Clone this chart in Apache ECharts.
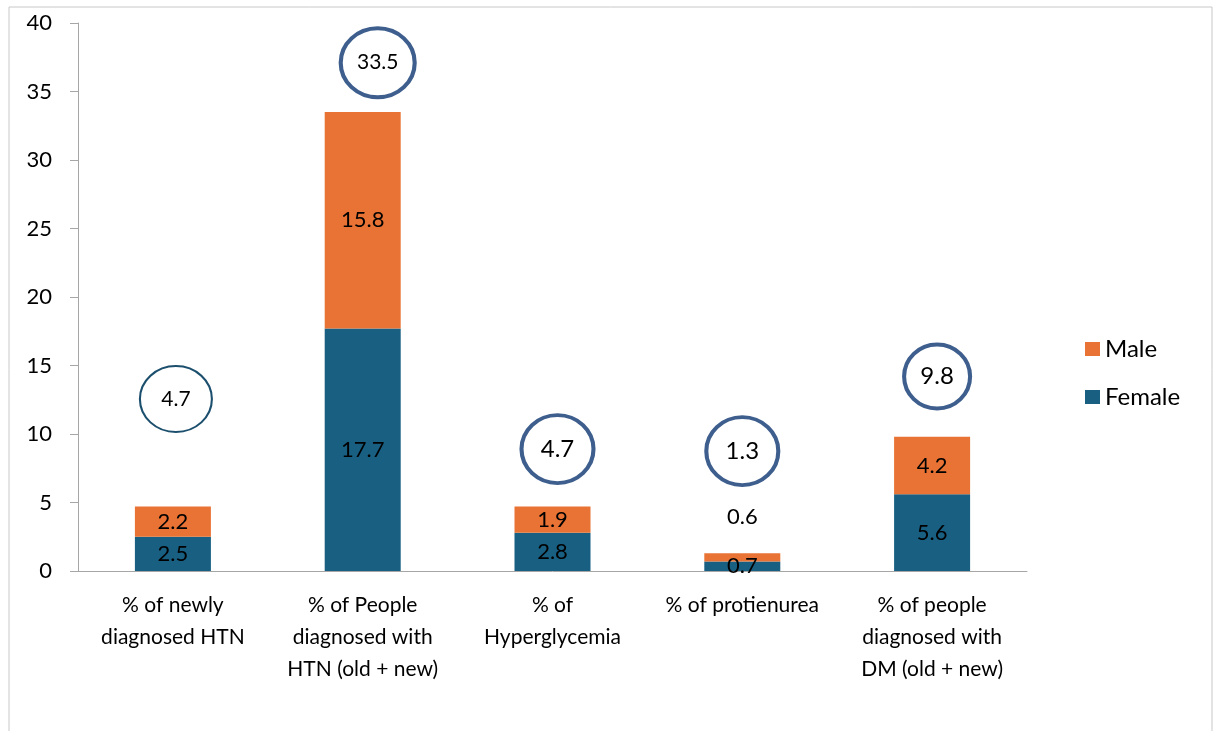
<!DOCTYPE html>
<html>
<head>
<meta charset="utf-8">
<script src="https://cdn.jsdelivr.net/npm/echarts@6/dist/echarts.min.js"></script>
<style>
  html, body { margin: 0; padding: 0; background: #fff; }
  #box { width: 1218px; height: 731px; }
</style>
</head>
<body>
<div id="box"></div>
<script>
// categories and values
var categories = [
  '% of newly\ndiagnosed HTN',
  '% of People\ndiagnosed with\nHTN (old + new)',
  '% of\nHyperglycemia',
  '% of protienurea',
  '% of people\ndiagnosed with\nDM (old + new)'
];
var female = [2.5, 17.7, 2.8, 0.7, 5.6];
var male = [2.2, 15.8, 1.9, 0.6, 4.2];
var totals = [4.7, 33.5, 4.7, 1.3, 9.8];
// height (in axis units) where each circled total sits
var circleLevel = [12.55, 37.1, 8.9, 8.75, 14.2];
var yTicks = { min: 0, max: 40, step: 5 };

var FONT = 'Lato, "Open Sans", sans-serif';
var chart = echarts.init(document.getElementById('box'));

var ellipse = 'path://M0,50 A50,50 0 1,1 100,50 A50,50 0 1,1 0,50 Z';

var option = {
  animation: false,
  textStyle: { fontFamily: FONT },
  graphic: [{
    type: 'rect',
    shape: { x: 9, y: 7, width: 1203, height: 760 },
    style: { fill: 'none', stroke: '#c8c8c8', lineWidth: 1 },
    silent: true
  }],
  grid: { left: 78, top: 23, right: 191, bottom: 160 },
  legend: {
    data: ['Male', 'Female'],
    orient: 'vertical',
    left: 1080,
    top: 332,
    itemWidth: 15,
    itemHeight: 14,
    itemGap: 24,
    icon: 'rect',
    textStyle: { fontSize: 24, color: '#000', fontFamily: FONT }
  },
  xAxis: {
    type: 'category',
    data: categories,
    axisLine: { lineStyle: { color: '#a6a6a6' } },
    axisTick: { length: 8, lineStyle: { color: '#a6a6a6' } },
    axisLabel: {
      interval: 0,
      fontSize: 21,
      lineHeight: 32,
      margin: 18,
      color: '#000',
      fontFamily: FONT
    }
  },
  yAxis: {
    type: 'value',
    min: yTicks.min,
    max: yTicks.max,
    interval: yTicks.step,
    axisLine: { show: true, lineStyle: { color: '#a6a6a6' } },
    axisTick: { show: true, length: 8, lineStyle: { color: '#a6a6a6' } },
    splitLine: { show: false },
    axisLabel: { fontSize: 22, color: '#000', margin: 26, fontFamily: FONT }
  },
  series: [
    {
      name: 'Female',
      type: 'bar',
      stack: 'total',
      barWidth: 76,
      itemStyle: { color: '#185f82' },
      label: { show: true, position: 'inside', color: '#000', fontSize: 22, fontFamily: FONT },
      data: female
    },
    {
      name: 'Male',
      type: 'bar',
      stack: 'total',
      barWidth: 76,
      itemStyle: { color: '#e97334' },
      label: { show: true, position: 'inside', color: '#000', fontSize: 22, fontFamily: FONT },
      data: male.map(function (v, i) {
        // the tiny protienurea slice has its label pushed above the bar
        if (i === 3) {
          return { value: v, label: { position: 'top', distance: 25 } };
        }
        return v;
      })
    },
    {
      name: 'Total',
      type: 'scatter',
      z: 5,
      symbol: ellipse,
      symbolSize: [72, 68],
      itemStyle: { color: '#fff', borderColor: '#3e5f8e', borderWidth: 4, opacity: 1 },
      label: {
        show: true,
        position: 'inside',
        color: '#000',
        fontSize: 24,
        fontFamily: FONT,
        formatter: function (p) { return totals[p.dataIndex].toFixed(1); }
      },
      data: circleLevel.map(function (y, i) {
        var item = { value: [i, y] };
        if (i === 0) {
          item.symbolSize = [72, 66];
          item.symbolOffset = [3, 0];
          item.itemStyle = { borderColor: '#1b4f6d', borderWidth: 2 };
          item.label = { fontSize: 21 };
        }
        if (i === 1) {
          item.symbolSize = [74, 69];
          item.symbolOffset = [15, 0];
          item.label = { fontSize: 21 };
        }
        if (i === 2) { item.symbolOffset = [5, 0]; }
        if (i === 4) { item.symbolSize = [66, 64]; item.symbolOffset = [5, 0]; }
        return item;
      })
    }
  ]
};

chart.setOption(option);
</script>
</body>
</html>
